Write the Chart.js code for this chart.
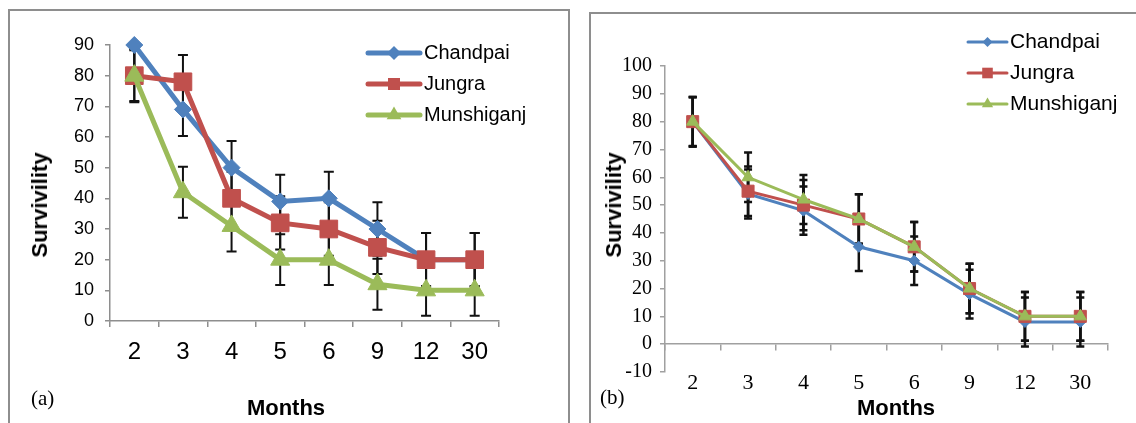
<!DOCTYPE html>
<html>
<head>
<meta charset="utf-8">
<script src="https://cdn.jsdelivr.net/npm/chart.js"></script>
<style>
  body { margin: 0; background: #fff; width: 1136px; height: 423px; overflow: hidden; position: relative; }
  .frame { position: absolute; border: 2px solid #8e8e8e; }
  .wrap { position: absolute; top: 0; height: 423px; }
  .lbl { position: absolute; color: #000; white-space: nowrap; transform: translate(-50%, -50%); }
  .ttl { font: bold 22px "Liberation Sans", Arial, sans-serif; }
  .ytl { transform: translate(-50%, -50%) rotate(-90deg); }
  .pan { font: 21px "Liberation Serif", "Times New Roman", serif; transform: translate(0, -50%); }
</style>
</head>
<body>
<div class="frame" style="left:8px; top:9px; width:558px; height:440px;"></div>
<div class="frame" style="left:589px; top:12px; width:560px; height:440px;"></div>
<div class="wrap" style="left:0; width:570px;"><canvas id="chartA"></canvas></div>
<div class="wrap" style="left:570px; width:566px;"><canvas id="chartB"></canvas></div>

<div class="lbl ttl ytl" style="left:40px; top:205px;">Survivility</div>
<div class="lbl ttl" style="left:286px; top:408px;">Months</div>
<div class="lbl pan" style="left:31px; top:398px;">(a)</div>

<div class="lbl ttl ytl" style="left:614px; top:205px;">Survivility</div>
<div class="lbl ttl" style="left:896px; top:408px;">Months</div>
<div class="lbl pan" style="left:600px; top:397px;">(b)</div>

<script>
// shared categories
const months = ['2', '3', '4', '5', '6', '9', '12', '30'];

// panel (a)
const chandpaiA = [90, 69, 50, 39, 40, 30, 20, 20];
const jungraA = [80, 78, 40, 32, 30, 24, 20, 20];
const munshiganjA = [80, 42, 31, 20, 20, 12, 10, 10];
const chandpaiErrA = [8.7, 8.7, 8.7, 8.7, 8.7, 8.7, 8.7, 8.7];
const jungraErrA = [8.7, 8.7, 8.7, 8.7, 8.7, 8.7, 8.7, 8.7];
const munshiganjErrA = [8.3, 8.3, 8.3, 8.3, 8.3, 8.3, 8.3, 8.3];
const yTicksA = [0, 90, 10]; // min, max, step

// panel (b)
const chandpaiB = [80, 54, 48, 35, 30, 18, 8, 8];
const jungraB = [80, 55, 50, 45, 35, 20, 10, 10];
const munshiganjB = [80, 60, 52, 45, 35, 20, 10, 10];
const chandpaiErrB = [8.8, 8.8, 8.7, 8.7, 8.7, 8.8, 8.8, 8.8];
const jungraErrB = [8.9, 8.9, 9.0, 8.9, 8.9, 8.9, 8.8, 8.8];
const munshiganjErrB = [8.9, 8.9, 8.8, 8.9, 8.9, 8.9, 8.8, 8.8];
const yTicksB = [-10, 100, 10];

const BLUE = '#4F81BD', RED = '#C0504D', GREEN = '#9BBB59';
const SANS = '"Liberation Sans", Arial, sans-serif';
const SERIF = '"Liberation Serif", "Times New Roman", serif';

// error bars, drawn under the lines, clipped to the plot area
const errorBars = {
  id: 'errorBars',
  beforeDatasetsDraw(chart, args, o) {
    const { ctx, chartArea: area } = chart;
    const y = chart.scales.y;
    ctx.save();
    ctx.strokeStyle = o.color;
    ctx.lineWidth = o.width;
    chart.data.datasets.forEach((ds, i) => {
      const meta = chart.getDatasetMeta(i);
      meta.data.forEach((pt, j) => {
        const e = ds.errors[j];
        const top = y.getPixelForValue(ds.data[j] + e);
        const bot = y.getPixelForValue(ds.data[j] - e);
        ctx.beginPath();
        ctx.moveTo(pt.x, Math.max(top, area.top));
        ctx.lineTo(pt.x, Math.min(bot, area.bottom));
        if (top >= area.top - 0.5) {
          ctx.moveTo(pt.x - o.cap, top);
          ctx.lineTo(pt.x + o.cap, top);
        }
        if (bot <= area.bottom + 0.5) {
          ctx.moveTo(pt.x - o.cap, bot);
          ctx.lineTo(pt.x + o.cap, bot);
        }
        ctx.stroke();
      });
    });
    ctx.restore();
  }
};

// Excel style legend sitting over the top right of the plot
const sideLegend = {
  id: 'sideLegend',
  afterDatasetsDraw(chart, args, o) {
    const ctx = chart.ctx;
    chart.data.datasets.forEach((ds, i) => {
      const y = o.y + i * o.gap;
      ctx.save();
      ctx.strokeStyle = ds.borderColor;
      ctx.lineWidth = o.lineWidth;
      ctx.lineCap = 'round';
      ctx.beginPath();
      ctx.moveTo(o.x, y);
      ctx.lineTo(o.x + o.len, y);
      ctx.stroke();
      ctx.fillStyle = ds.backgroundColor;
      Chart.helpers.drawPoint(ctx, { pointStyle: ds.pointStyle, radius: o.radii[i], rotation: 0, borderWidth: 0 }, o.x + o.len / 2, y);
      ctx.fillStyle = '#000';
      ctx.font = o.font;
      ctx.textBaseline = 'middle';
      ctx.textAlign = 'left';
      ctx.fillText(ds.label, o.x + o.len + o.textGap, y);
      ctx.restore();
    });
  }
};

function series(label, data, errors, color, style, radius, width, order) {
  return {
    label, data, errors, order,
    xAxisID: 'x', yAxisID: 'y',
    clip: false,
    borderColor: color, backgroundColor: color,
    borderWidth: width, tension: 0,
    pointStyle: style, pointRadius: radius,
    pointBorderWidth: 1, pointBorderColor: color, pointBackgroundColor: color
  };
}

new Chart(document.getElementById('chartA'), {
  type: 'line',
  data: {
    labels: months,
    datasets: [
      series('Chandpai', chandpaiA, chandpaiErrA, BLUE, 'rectRot', 8.5, 5, 3),
      series('Jungra', jungraA, jungraErrA, RED, 'rect', 12.5, 5, 2),
      series('Munshiganj', munshiganjA, munshiganjErrA, GREEN, 'triangle', 11, 5, 1)
    ]
  },
  options: {
    animation: false,
    responsive: true,
    maintainAspectRatio: false,
    events: [],
    layout: { padding: { left: 28, top: 45, right: 71, bottom: 0 } },
    plugins: {
      legend: { display: false },
      tooltip: { enabled: false },
      errorBars: { color: '#111', width: 2, cap: 5 },
      sideLegend: { x: 368, y: 53, gap: 31, len: 52, textGap: 4, lineWidth: 5, radii: [7, 8.5, 8.5], font: '20px ' + SANS }
    },
    scales: {
      x: {
        offset: true,
        grid: { display: true, offset: true, drawOnChartArea: false, tickLength: 6, color: '#8e8e8e', lineWidth: 1.5 },
        border: { color: '#8e8e8e', width: 1.5 },
        ticks: { color: '#000', font: { family: SANS, size: 24 }, padding: 11, maxRotation: 0, autoSkip: false },
        afterFit: (s) => { s.height = 102; }
      },
      y: {
        min: yTicksA[0], max: yTicksA[1],
        grid: { display: true, drawOnChartArea: false, tickLength: 5, color: '#8e8e8e', lineWidth: 1.5 },
        border: { color: '#8e8e8e', width: 1.5 },
        ticks: { stepSize: yTicksA[2], color: '#000', font: { family: SANS, size: 18 }, padding: 11 },
        afterFit: (s) => { s.width = 82; }
      }
    }
  },
  plugins: [errorBars, sideLegend]
});

new Chart(document.getElementById('chartB'), {
  type: 'line',
  data: {
    labels: months,
    datasets: [
      series('Chandpai', chandpaiB, chandpaiErrB, BLUE, 'rectRot', 5.5, 3, 3),
      series('Jungra', jungraB, jungraErrB, RED, 'rect', 8.5, 3, 2),
      series('Munshiganj', munshiganjB, munshiganjErrB, GREEN, 'triangle', 7, 3, 1)
    ]
  },
  options: {
    animation: false,
    responsive: true,
    maintainAspectRatio: false,
    events: [],
    layout: { padding: { left: 40, top: 66, right: 28, bottom: 0 } },
    plugins: {
      legend: { display: false },
      tooltip: { enabled: false },
      errorBars: { color: '#111', width: 2.5, cap: 4 },
      sideLegend: { x: 398, y: 42, gap: 31, len: 39, textGap: 3, lineWidth: 3, radii: [5, 7.5, 6.5], font: '21px ' + SANS }
    },
    scales: {
      x: {
        offset: true,
        grid: { display: false },
        border: { display: false },
        ticks: { color: '#000', font: { family: SERIF, size: 22 }, padding: -10, maxRotation: 0, autoSkip: false },
        afterFit: (s) => { s.height = 51; }
      },
      x2: {
        type: 'category',
        axis: 'x',
        position: { y: 0 },
        offset: true,
        grid: { display: true, offset: true, drawOnChartArea: false, tickLength: 6, color: '#a0a0a0', lineWidth: 1.5 },
        border: { color: '#a0a0a0', width: 1.5 },
        ticks: { display: false }
      },
      y: {
        min: yTicksB[0], max: yTicksB[1],
        grid: { display: true, drawOnChartArea: false, tickLength: 5, color: '#a0a0a0', lineWidth: 1.5 },
        border: { color: '#a0a0a0', width: 1.5 },
        ticks: { stepSize: yTicksB[2], color: '#000', font: { family: SERIF, size: 20 }, padding: 8 },
        afterFit: (s) => { s.width = 55; }
      }
    }
  },
  plugins: [errorBars, sideLegend]
});
</script>
</body>
</html>
